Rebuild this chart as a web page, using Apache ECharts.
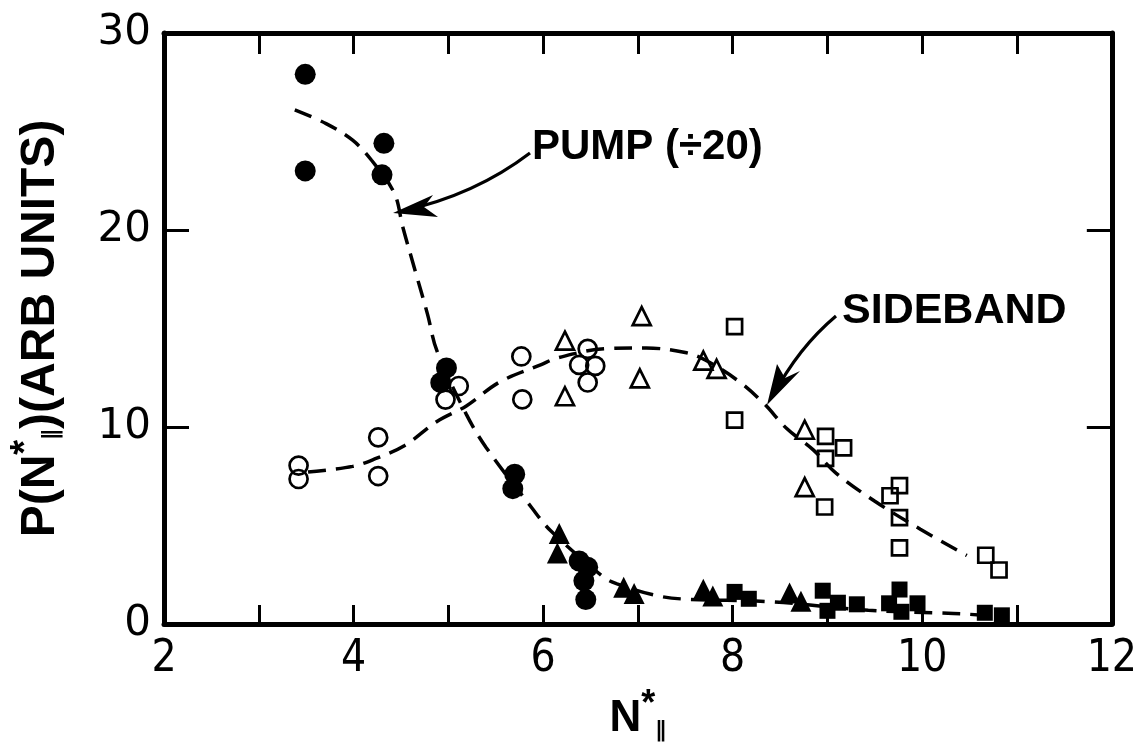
<!DOCTYPE html>
<html><head><meta charset="utf-8">
<script src="https://cdn.jsdelivr.net/npm/echarts@6/dist/echarts.min.js"></script>
<style>html,body{margin:0;padding:0;background:#fff}#c{width:1140px;height:751px}</style>
</head><body><div id="c"></div>
<script>
// ---- data ----
const xRange = [2, 12];
const yRange = [0, 30];
const xTickLabels = ['2', '4', '6', '8', '10', '12'];
const yTickLabels = ['0', '10', '20', '30'];

// PUMP (÷20): filled markers
const pumpCircles = [[3.49,27.9],[3.49,23.0],[4.32,24.4],[4.30,22.8],[4.98,13.0],[4.92,12.25],
  [5.70,7.6],[5.68,6.87],[6.38,3.2],[6.47,2.88],[6.43,2.19],[6.45,1.24]];
const pumpTriangles = [[6.17,4.6],[6.15,3.6],[6.85,1.87],[6.96,1.55],[7.69,1.77],[7.79,1.42],[8.60,1.57],[8.72,1.16]];
const pumpSquares = [[8.02,1.63],[8.17,1.28],[8.95,1.69],[9.00,0.67],[9.11,1.08],[9.31,1.0],
  [9.76,1.75],[9.65,1.05],[9.78,0.62],[9.95,1.05],[10.66,0.57],[10.84,0.44]];
// SIDEBAND: open markers
const sideCircles = [[3.42,8.04],[3.42,7.36],[4.26,9.47],[4.26,7.51],[5.11,12.08],[4.97,11.39],
  [5.77,13.58],[5.78,11.40],[6.47,13.97],[6.38,13.15],[6.55,13.1],[6.47,12.26]];
const sideTriangles = [[6.23,14.38],[6.23,11.56],[7.04,15.63],[7.02,12.47],[7.69,13.37],[7.83,12.95],[8.76,9.86],[8.76,6.95]];
const sideSquares = [[8.02,15.1],[8.02,10.35],[8.98,9.52],[9.17,8.94],[8.98,8.41],[8.97,5.94],
  [9.76,7.02],[9.66,6.51],[9.76,5.4],[9.76,3.86],[10.67,3.49],[10.81,2.74]];
// dashed fitted curves
const pumpCurve = [[3.38,26.1],[3.71,25.4],[3.99,24.56],[4.19,23.54],[4.43,21.87],[4.52,20.14],[4.64,18.1],
  [4.78,15.73],[4.88,13.86],[5.19,10.64],[5.40,8.95],[5.88,5.9],[6.08,4.73],[6.64,2.37],[6.78,2.04],
  [7.17,1.47],[7.47,1.27],[8.40,1.13],[9.43,0.7],[10.19,0.56],[10.47,0.5],[10.91,0.34]];
const sideCurve = [[3.52,7.72],[3.99,8.0],[4.23,8.39],[4.54,9.06],[4.88,10.28],[5.19,11.07],[5.54,12.28],
  [5.98,13.17],[6.16,13.52],[6.67,13.98],[7.09,14.01],[7.50,13.78],[7.71,13.4],[8.05,12.37],[8.33,11.19],
  [8.57,9.92],[8.85,8.84],[9.09,7.66],[9.50,6.23],[9.98,4.81],[10.47,3.48]];

// ---- chart ----
const K = '#000';
const chart = echarts.init(document.getElementById('c'), null, {renderer: 'canvas'});
const axisLine = {show: true, onZero: false, lineStyle: {color: K, width: 5}};
const tick = (len) => ({show: true, inside: true, length: len, lineStyle: {color: K, width: 3}});
const filled = (name, sym, size, data) => ({
  name, type: 'scatter', symbol: sym, symbolSize: size, data, z: 5,
  itemStyle: {color: K, borderWidth: 0, opacity: 1}
});
const open = (name, sym, size, data) => ({
  name, type: 'scatter', symbol: sym, symbolSize: size, data, z: 5,
  itemStyle: {color: 'rgba(0,0,0,0)', borderColor: K, borderWidth: 2.7, opacity: 1}
});
const dashed = (name, data) => ({
  name, type: 'line', data, smooth: 0.35, symbol: 'none', z: 3,
  lineStyle: {color: K, width: 3.5, type: [18, 10]}
});

chart.setOption({
  animation: false,
  backgroundColor: '#fff',
  grid: {left: 148, right: 24, top: 33, bottom: 127, containLabel: false},
  xAxis: [{
    type: 'value', min: xRange[0], max: xRange[1], interval: 1, position: 'bottom',
    axisLine, axisTick: tick(19), splitLine: {show: false},
    axisLabel: {
      margin: 14, color: K, fontSize: 44, fontFamily: 'Liberation Sans Narrow, DejaVu Sans Condensed, Liberation Sans',
      formatter: v => xTickLabels.includes(String(v)) ? String(v) : ''
    },
    name: '{b|N}{sup|*}{sub|\u2225}', nameLocation: 'middle', nameGap: 58,
    nameTextStyle: {
      rich: {
        b: {fontSize: 44, fontWeight: 'bold', fontFamily: 'Liberation Sans', color: K},
        sup: {fontSize: 36, fontWeight: 'bold', fontFamily: 'Liberation Sans', color: K, padding: [0, 0, 28, 0]},
        sub: {fontSize: 22, fontWeight: 'bold', fontFamily: 'DejaVu Sans', color: K, padding: [24, 0, 0, 0]}
      }
    }
  }, {
    type: 'value', min: xRange[0], max: xRange[1], interval: 1, position: 'top',
    axisLine, axisTick: tick(21), axisLabel: {show: false}, splitLine: {show: false}
  }],
  yAxis: [{
    type: 'value', min: yRange[0], max: yRange[1], interval: 10, position: 'left',
    axisLine, axisTick: tick(25), splitLine: {show: false},
    axisLabel: {
      margin: 13, color: K, fontSize: 42, fontFamily: 'DejaVu Sans',
      formatter: v => yTickLabels.includes(String(v)) ? String(v) : ''
    },
    name: '{b|P(N}{sup|*}{sub|\u2225}{b|)(ARB UNITS)}', nameLocation: 'middle', nameGap: 90, nameRotate: 90,
    nameTextStyle: {
      rich: {
        b: {fontSize: 48, fontWeight: 'bold', fontFamily: 'Liberation Sans', color: K},
        sup: {fontSize: 38, fontWeight: 'bold', fontFamily: 'Liberation Sans', color: K, padding: [0, 0, 28, 0]},
        sub: {fontSize: 22, fontWeight: 'bold', fontFamily: 'DejaVu Sans', color: K, padding: [22, 0, 0, 0]}
      }
    }
  }, {
    type: 'value', min: yRange[0], max: yRange[1], interval: 10, position: 'right',
    axisLine, axisTick: tick(25), axisLabel: {show: false}, splitLine: {show: false}
  }],
  series: [
    dashed('pump fit', pumpCurve),
    dashed('sideband fit', sideCurve),
    filled('pump circles', 'circle', 21, pumpCircles),
    filled('pump triangles', 'triangle', 21, pumpTriangles),
    filled('pump squares', 'rect', 16, pumpSquares),
    open('sideband circles', 'circle', 18, sideCircles),
    open('sideband triangles', 'triangle', 18, sideTriangles),
    open('sideband squares', 'rect', 15, sideSquares)
  ],
  graphic: [
    {type: 'text', x: 532, y: 126, z: 10,
     style: {text: 'PUMP (÷20)', font: 'bold 42px "Liberation Sans"', fill: K}},
    {type: 'bezierCurve', z: 10, shape: {x1: 530, y1: 153, x2: 402, y2: 211, cpx1: 475, cpy1: 195},
     style: {fill: null, stroke: K, lineWidth: 3.2}},
    {type: 'polygon', z: 10, shape: {points: [[393,213],[433,195],[424,207],[438,217]]}, style: {fill: K}},
    {type: 'text', x: 842, y: 290, z: 10,
     style: {text: 'SIDEBAND', font: 'bold 43px "Liberation Sans"', fill: K}},
    {type: 'bezierCurve', z: 10, shape: {x1: 836, y1: 316, x2: 773, y2: 396, cpx1: 798, cpy1: 348},
     style: {fill: null, stroke: K, lineWidth: 3.2}},
    {type: 'polygon', z: 10, shape: {points: [[767,405],[777,364],[785,378],[800,371]]}, style: {fill: K}}
  ]
});
</script></body></html>
